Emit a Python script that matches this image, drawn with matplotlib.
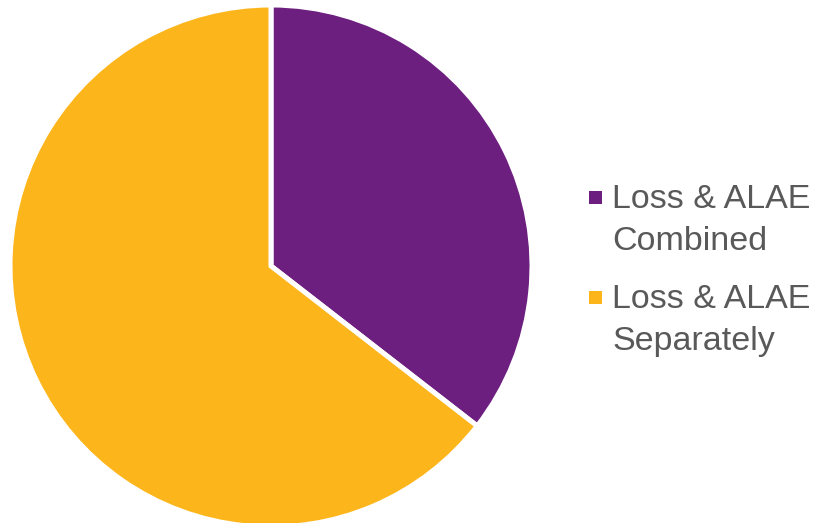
import matplotlib
matplotlib.use("Agg")
import matplotlib.pyplot as plt
from matplotlib.patches import Rectangle

# Share of claims by how loss and ALAE are handled
categories = ["Loss & ALAE\nCombined", "Loss & ALAE\nSeparately"]
shares = [35.5, 64.5]
colors = ["#6D1F80", "#FDB51C"]

W, H = 821, 523
fig = plt.figure(figsize=(W / 100, H / 100), dpi=100)
fig.patch.set_facecolor("white")

# Pie placed by centre and radius in pixels
cx, cy, r = 271, 266, 261
ax = fig.add_axes([(cx - r) / W, (H - cy - r) / H, 2 * r / W, 2 * r / H])
ax.pie(shares, colors=colors, startangle=90, counterclock=False, radius=1.0,
       wedgeprops=dict(edgecolor="white", linewidth=3.6))
ax.set_xlim(-1, 1)
ax.set_ylim(-1, 1)
ax.set_aspect("equal")
ax.axis("off")

# Hand-laid legend: square marker beside the first line of each label
text_color = "#595959"
fs = 24.5
marker_x, marker_w = 589, 13
text_x = 612
first_baselines = [208, 308]
line_gap = 42
for label, col, base in zip(categories, colors, first_baselines):
    lines = label.split("\n")
    fig.patches.append(Rectangle(((marker_x) / W, (H - base + 4) / H),
                                 marker_w / W, marker_w / H,
                                 transform=fig.transFigure, facecolor=col,
                                 edgecolor="none"))
    for k, line in enumerate(lines):
        fig.text(text_x / W, (H - base - k * line_gap) / H, line,
                 fontsize=fs, family="Liberation Sans", color=text_color,
                 ha="left", va="baseline")

fig.savefig("out.png", dpi=100, facecolor="white")
